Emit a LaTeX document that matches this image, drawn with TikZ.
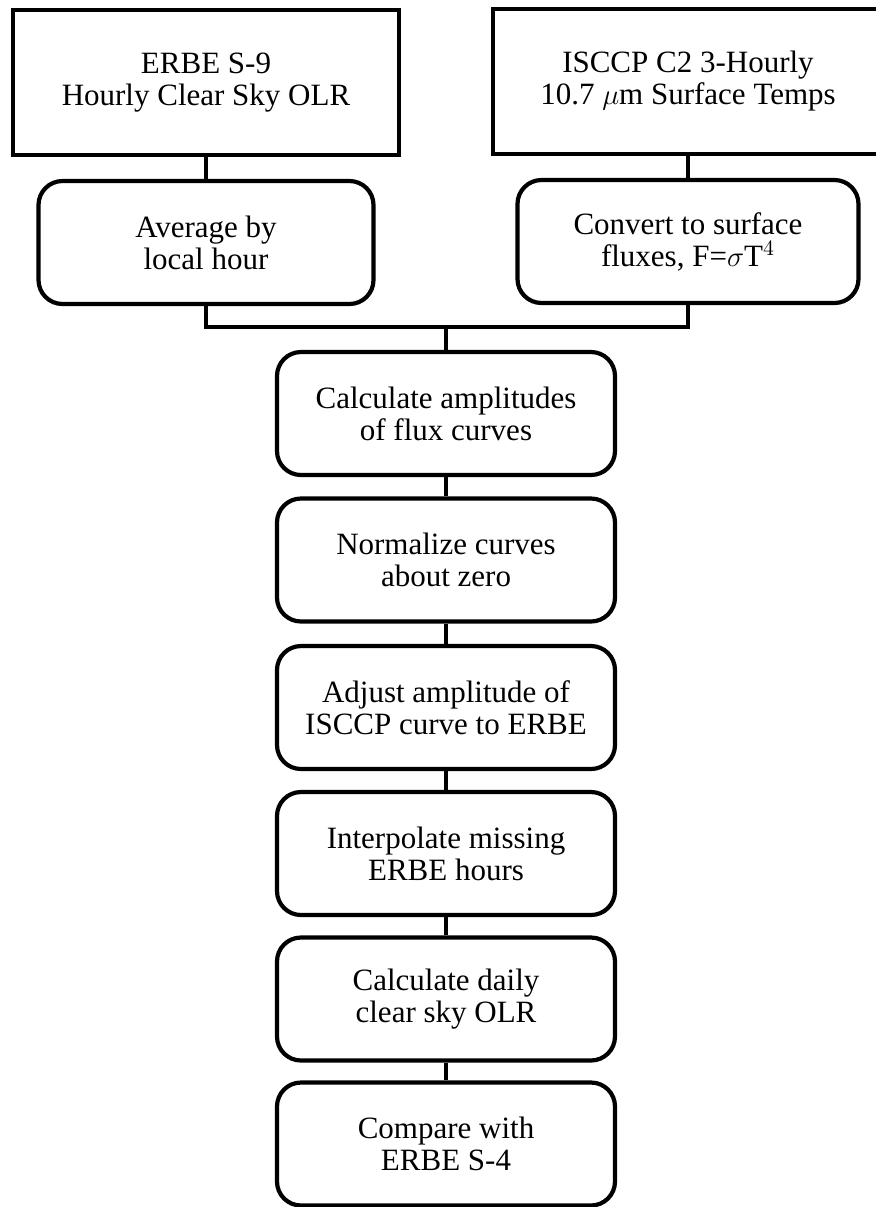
\documentclass[tikz,border=0pt]{standalone}
\usepackage{fontspec}
\setmainfont{Liberation Serif}
\usepackage{tikz}
\usetikzlibrary{positioning}

\begin{document}
\begin{tikzpicture}[x=0.5pt,y=-0.5pt,
		font=\fontsize{15.5}{16}\selectfont,
		databox/.style={draw,line width=2.1pt,minimum width=193pt,minimum height=72.5pt,align=center,inner sep=0pt},
		stepbox/.style={draw,line width=2.1pt,rounded corners=12pt,minimum width=169pt,minimum height=61.5pt,align=center,inner sep=0pt},
		link/.style={line width=1.6pt}]
				\useasboundingbox (0,0) rectangle (876,1207);
				%Nodes
				\node[databox]  (erbe)  at (206,82.5)  {ERBE S-9\\Hourly Clear Sky OLR};
				\node[databox,minimum width=195pt]  (isccp) at (688,81.5)  {ISCCP C2 3-Hourly\\10.7 $\mu$m Surface Temps};
				\node[stepbox,minimum width=167.5pt]  (avg)   at (206,242.5) {Average by\\local hour};
				\node[stepbox,minimum width=170.5pt]  (conv)  at (688,241.5) {Convert to surface\\fluxes, F=$\sigma$T$^4$};
				\coordinate      (join)  at  (446,327);
				\node[stepbox]  (ampl)  at (446,413.5) {Calculate amplitudes\\of flux curves};
				\node[stepbox]  (norm)  at (446,560)   {Normalize curves\\about zero};
				\node[stepbox]  (adj)   at (446,707.5) {Adjust amplitude of\\ISCCP curve to ERBE};
				\node[stepbox]  (interp) at (446,853.5) {Interpolate missing\\ERBE hours};
				\node[stepbox]  (daily) at (446,999)   {Calculate daily\\clear sky OLR};
				\node[stepbox]  (comp)  at (446,1144)  {Compare with\\ERBE S-4};

				%Lines
				\draw[link] (erbe) -- (avg);
				\draw[link] (isccp) -- (conv);
				\draw[link] (avg.south) |- (join) -| (conv.south);
				\draw[link] (join) -- (ampl.north);
				\draw[link] (ampl) -- (norm);
				\draw[link] (norm) -- (adj);
				\draw[link] (adj) -- (interp);
				\draw[link] (interp) -- (daily);
				\draw[link] (daily) -- (comp);
\end{tikzpicture}
\end{document}
